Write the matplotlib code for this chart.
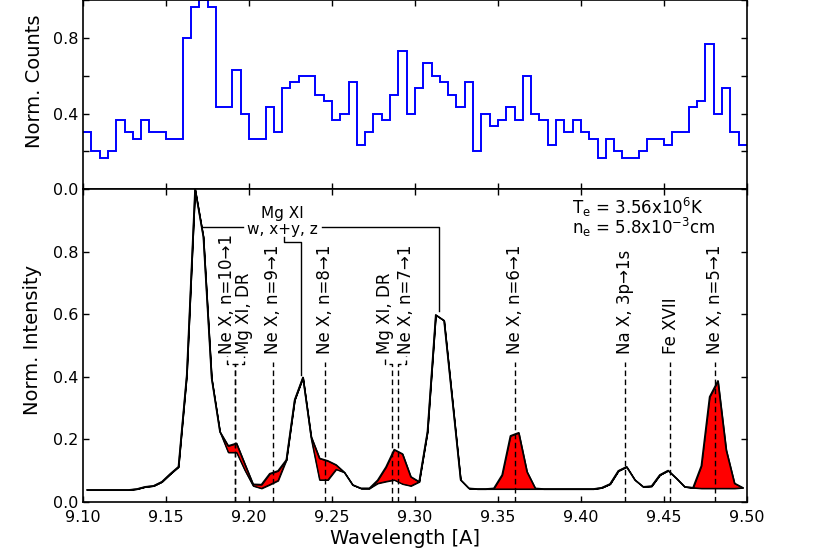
import numpy as np
import matplotlib.pyplot as plt

# observed counts per 0.005 A bin, 9.100 - 9.500 A
counts = [9, 6, 5, 6, 11, 9, 8, 11, 9, 9,
          8, 8, 24, 29, 30, 29, 13, 13, 19, 12,
          8, 8, 13, 9, 16, 17, 18, 18, 15, 14,
          11, 12, 17, 7, 9, 12, 11, 15, 22, 12,
          16, 20, 18, 17, 15, 13, 17, 6, 12, 10,
          11, 13, 11, 18, 12, 11, 7, 11, 9, 11,
          9, 8, 5, 8, 6, 5, 5, 6, 8, 8,
          7, 9, 9, 13, 14, 23, 12, 16, 9, 7]

# model spectrum at bin centres (total) and without the Ne X / DR lines
model_total = [0.037, 0.037, 0.037, 0.037, 0.037, 0.037, 0.040, 0.047, 0.050, 0.063,
               0.088, 0.111, 0.405, 1.000, 0.847, 0.394, 0.223, 0.178, 0.186, 0.120,
               0.055, 0.054, 0.089, 0.098, 0.133, 0.325, 0.397, 0.207, 0.138, 0.130,
               0.117, 0.093, 0.053, 0.042, 0.042, 0.068, 0.110, 0.166, 0.152, 0.079,
               0.063, 0.223, 0.597, 0.579, 0.325, 0.069, 0.042, 0.040, 0.040, 0.042,
               0.085, 0.210, 0.220, 0.095, 0.042, 0.040, 0.040, 0.040, 0.040, 0.040,
               0.040, 0.040, 0.044, 0.056, 0.098, 0.111, 0.069, 0.047, 0.049, 0.085,
               0.099, 0.074, 0.047, 0.044, 0.114, 0.335, 0.386, 0.165, 0.058, 0.044]
model_base = [0.037, 0.037, 0.037, 0.037, 0.037, 0.037, 0.040, 0.047, 0.050, 0.063,
              0.088, 0.111, 0.405, 1.000, 0.847, 0.394, 0.223, 0.157, 0.157, 0.100,
              0.050, 0.042, 0.054, 0.067, 0.133, 0.325, 0.397, 0.200, 0.069, 0.069,
              0.103, 0.093, 0.053, 0.042, 0.042, 0.058, 0.064, 0.069, 0.056, 0.050,
              0.063, 0.223, 0.597, 0.579, 0.325, 0.069, 0.042, 0.040, 0.040, 0.040,
              0.040, 0.040, 0.040, 0.040, 0.040, 0.040, 0.040, 0.040, 0.040, 0.040,
              0.040, 0.040, 0.044, 0.056, 0.098, 0.111, 0.069, 0.047, 0.049, 0.085,
              0.099, 0.074, 0.047, 0.044, 0.042, 0.042, 0.042, 0.042, 0.042, 0.044]

line_labels = ['Ne X, n=10→1', 'Mg XI, DR', 'Ne X, n=9→1', 'Ne X, n=8→1', 'Mg XI, DR',
               'Ne X, n=7→1', 'Ne X, n=6→1', 'Na X, 3p→1s', 'Fe XVII', 'Ne X, n=5→1']
line_wl = [9.1918, 9.1918, 9.2143, 9.2455, 9.2863, 9.2900, 9.3600, 9.4265, 9.4535, 9.4805]
label_wl = [9.1870, 9.1968, 9.2143, 9.2455, 9.2820, 9.2945, 9.3600, 9.4265, 9.4540, 9.4808]

mg_wl = [9.1715, 9.2313, 9.3146]  # Mg XI w, x+y, z

edges = np.round(9.10 + 0.005 * np.arange(len(counts) + 1), 4)
centers = edges[:-1] + 0.0025
counts = np.array(counts, dtype=float)
model_total = np.array(model_total)
model_base = np.array(model_base)

fig = plt.figure(figsize=(8.3, 5.49), dpi=100)
ax1 = fig.add_axes([0.1, 0.6557, 0.8, 0.3434])
ax2 = fig.add_axes([0.1, 0.0865, 0.8, 0.5692])

# top: observed counts
ax1.stairs(counts / counts.max(), edges, color='blue', lw=1.4, baseline=None)
ax1.set_xlim(9.10, 9.50)
ax1.set_ylim(0, 1.0)
ax1.set_yticks([0, 0.2, 0.4, 0.6, 0.8, 1.0])
ax1.set_yticklabels(['0.0', '', '0.4', '', '0.8', ''])
ax1.set_xticks(np.arange(9.10, 9.501, 0.05))
ax1.set_xticklabels([])
ax1.set_ylabel('Norm. Counts', fontsize=14)
ax1.yaxis.set_label_coords(-0.058, 0.57)

# bottom: model
ax2.fill_between(centers, model_base, model_total, facecolor='red', edgecolor='black', lw=0.8)
ax2.plot(centers, model_base, color='black', lw=0.8)
ax2.plot(centers, model_total, color='black', lw=1.2)
ax2.set_xlim(9.10, 9.50)
ax2.set_ylim(0, 1.0)
ax2.set_yticks([0, 0.2, 0.4, 0.6, 0.8, 1.0])
ax2.set_yticklabels(['0.0', '0.2', '0.4', '0.6', '0.8', ''])
ax2.set_xticks(np.arange(9.10, 9.501, 0.05))
ax2.set_xticklabels(['%.2f' % v for v in np.arange(9.10, 9.501, 0.05)])
ax2.set_xlabel('Wavelength [A]', fontsize=14)
ax2.xaxis.set_label_coords(0.485, -0.088)
ax2.set_ylabel('Norm. Intensity', fontsize=14)
ax2.yaxis.set_label_coords(-0.062, 0.517)

# line identifications
for lab, lw_line, lw_lab in zip(line_labels, line_wl, label_wl):
    if abs(lw_line - lw_lab) > 0.001:
        ax2.plot([lw_line, lw_line, lw_lab, lw_lab], [0, 0.44, 0.44, 0.465],
                 'k--', lw=1, dashes=(4, 2.5), zorder=4)
    else:
        ax2.plot([lw_line, lw_line], [0, 0.447], 'k--', lw=1, dashes=(4, 2.5), zorder=4)
    ax2.text(lw_lab, 0.472, lab, rotation=90, ha='center', va='bottom', fontsize=12)

# Mg XI triplet
ax2.text(9.2202, 0.922, 'Mg XI', ha='center', va='center', fontsize=11)
ax2.text(9.2199, 0.872, 'w, x+y, z', ha='center', va='center', fontsize=11)
ax2.plot([mg_wl[0], 9.1966], [0.877, 0.877], 'k-', lw=1)
ax2.plot([9.2438, mg_wl[2], mg_wl[2]], [0.877, 0.877, 0.61], 'k-', lw=1)
ax2.plot([9.2213, 9.2213, mg_wl[1], mg_wl[1]], [0.847, 0.831, 0.831, 0.405], 'k-', lw=1)

ax2.text(9.3946, 0.910,
         'T$_{\\rm e}$ = 3.56x10$^{6}$K\nn$_{\\rm e}$ = 5.8x10$^{-3}$cm',
         fontsize=12, va='center', linespacing=0.85)

for ax in (ax1, ax2):
    ax.tick_params(direction='in', top=True, right=True, length=4, width=1,
                   labelsize=11.5)
    ax.tick_params(axis='x', pad=6)
    for sp in ax.spines.values():
        sp.set_linewidth(1.2)

fig.savefig('out.png', dpi=100)
